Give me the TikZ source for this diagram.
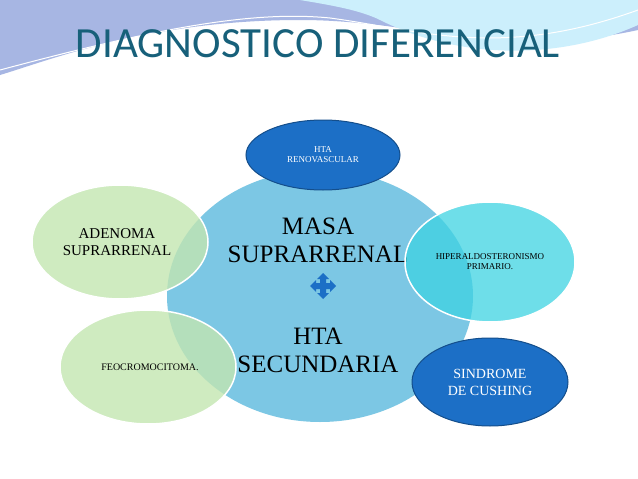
\documentclass[tikz,border=0pt]{standalone}
\usepackage{fontspec}
\setmainfont{Liberation Serif}
\newfontfamily\titlefont{Carlito}
\begin{document}
\begin{tikzpicture}[x=1pt,y=-1pt,
  green/.style={fill=lgreen, fill opacity=0.8, draw=white, line width=1.5pt},
  dark/.style={fill=dblue, draw=dblue!70!black, line width=1pt},
  lbl/.style={text=black, align=center, font=\fontsize{9}{10}\selectfont},
  big/.style={text=black, align=center, font=\fontsize{25}{28}\selectfont}]
\definecolor{lgreen}{HTML}{C3E6B1}
\definecolor{dblue}{HTML}{1C6FC6}
\definecolor{lblue}{HTML}{7CC7E4}
\definecolor{cyanc}{HTML}{3ED3E2}
\definecolor{tcol}{HTML}{17607A}
\useasboundingbox (0,0) rectangle (638,479);
\fill[white] (0,0) rectangle (638,479);
% swoosh
\fill[cyan!40!blue!35] (0,0) -- (638,0) -- (638,30) .. controls (500,60) and (420,20) .. (300,20) .. controls (150,20) and (50,60) .. (0,75) -- cycle;
\fill[cyan!20] (300,0) -- (638,0) -- (638,25) .. controls (560,60) and (460,60) .. (380,20) .. controls (360,10) and (330,5) .. (300,0) -- cycle;
\draw[white, line width=1pt] (0,70) .. controls (150,30) and (250,10) .. (330,18) .. controls (420,30) and (500,60) .. (638,10);
\node[text=tcol, font=\titlefont\fontsize{43}{45}\selectfont] (title) at (318,44) {DIAGNOSTICO DIFERENCIAL};
% big circle
\fill[lblue] (320,296) ellipse [x radius=153, y radius=126];
\node[big] (masa) at (318,240) {MASA\\SUPRARRENAL};
\node[big] (hta) at (318,350) {HTA\\SECUNDARIA};
% arrow icon
\fill[dblue] (323,273) -- (329,279) -- (326,279) -- (326,283) -- (330,283) -- (330,280) -- (336,286) -- (330,292) -- (330,289) -- (326,289) -- (326,293) -- (329,293) -- (323,299) -- (317,293) -- (320,293) -- (320,289) -- (316,289) -- (316,292) -- (310,286) -- (316,280) -- (316,283) -- (320,283) -- (320,279) -- (317,279) -- cycle;
% satellites
\filldraw[green] (120,242) ellipse [x radius=88, y radius=57];
\node[lbl, font=\fontsize{15}{17}\selectfont] (aden) at (117,242) {ADENOMA\\SUPRARRENAL};
\filldraw[green] (148,367) ellipse [x radius=88, y radius=57];
\node[lbl, font=\fontsize{10}{12}\selectfont] (feo) at (150,367) {FEOCROMOCITOMA.};
\filldraw[fill=cyanc, fill opacity=0.75, draw=white, line width=1.5pt] (490,262) ellipse [x radius=85, y radius=60];
\node[lbl] (hiper) at (490,262) {HIPERALDOSTERONISMO\\PRIMARIO.};
\filldraw[dark] (323,155) ellipse [x radius=77, y radius=35];
\node[lbl, text=white] (reno) at (323,155) {HTA\\RENOVASCULAR};
\filldraw[dark] (490,382) ellipse [x radius=78, y radius=44];
\node[lbl, text=white, font=\fontsize{14}{17}\selectfont] (cush) at (490,382) {SINDROME\\DE CUSHING};
\end{tikzpicture}
\end{document}
